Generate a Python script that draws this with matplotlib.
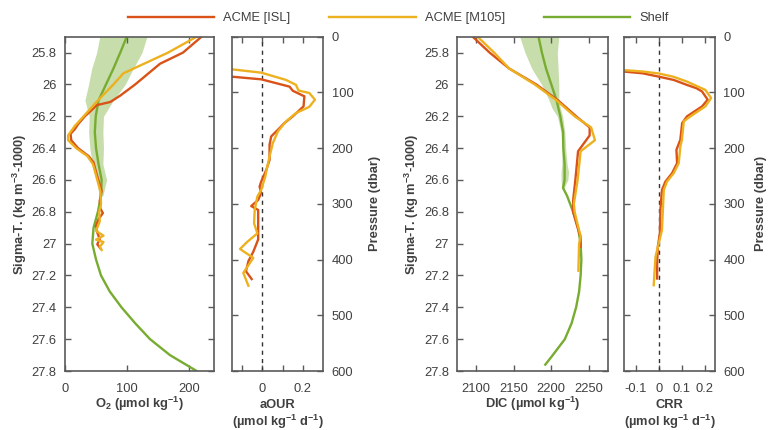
import matplotlib
matplotlib.use("Agg")
import matplotlib.pyplot as plt
import numpy as np
from matplotlib.lines import Line2D

plt.rcParams['font.family'] = ['Liberation Sans', 'DejaVu Sans']
plt.rcParams['mathtext.default'] = 'regular'

# ---------------- data ----------------
# O2 panel (sigma-T)
shelf_o2_sig = [25.7, 25.8, 25.9, 26.0, 26.1, 26.2, 26.3, 26.4, 26.5, 26.6, 26.7, 26.8, 26.9,
                27.0, 27.1, 27.2, 27.3, 27.4, 27.5, 27.6, 27.7, 27.8]
shelf_o2 = [99.5, 89, 78, 66, 54, 49.5, 48, 50, 54, 59, 58, 53, 46,
            44, 50, 58, 72, 91, 113, 137, 169, 212]
band_o2_sig = [25.7, 25.8, 25.9, 26.0, 26.1, 26.2, 26.3, 26.4, 26.5, 26.6, 26.7]
band_o2_lo = [56, 51, 43, 38, 32, 39, 38, 40, 44, 51, 55]
band_o2_hi = [132, 124, 110, 97, 78, 62, 61, 62, 61, 67, 61]

isl_o2_sig = [25.70, 25.8, 25.87, 26.0, 26.07, 26.11, 26.13, 26.15, 26.2, 26.25, 26.28, 26.31,
              26.35, 26.4, 26.45, 26.49, 26.55, 26.604, 26.667, 26.73, 26.78, 26.808, 26.846,
              26.888, 26.93, 26.972, 27.004, 27.03]
isl_o2 = [220, 190, 153, 113, 89, 73, 51, 46, 32, 21, 16, 9,
          10, 21, 38, 46, 50, 54, 59, 56, 57, 61, 54,
          50, 52, 56, 52, 57]

m105_o2_sig = [25.70, 25.8, 25.93, 26.0, 26.1, 26.2, 26.26, 26.32, 26.35, 26.4, 26.45, 26.5,
               26.6, 26.67, 26.75, 26.8, 26.86, 26.92, 26.95, 26.975, 26.99, 27.02, 27.04]
m105_o2 = [212, 166, 94, 78, 53, 30, 16, 5, 5, 18, 36, 45,
           52, 57, 58, 55, 56, 50, 62, 50, 62, 56, 59]

# aOUR panel (pressure)
isl_aour_p = [71.7, 76.5, 89.6, 97, 107, 125, 143, 155, 167, 179, 194, 221, 239, 260, 269, 280,
              293, 304, 311, 347, 364, 386, 403, 421, 435]
isl_aour = [-0.151, -0.005, 0.134, 0.15, 0.207, 0.203, 0.15, 0.109, 0.077, 0.044, 0.036, 0.036,
            0.02, -0.005, -0.013, -0.005, -0.02, -0.054, -0.02, -0.02, -0.02, -0.044, -0.068,
            -0.08, -0.052]
m105_aour_p = [58.5, 64.5, 77.6, 86.5, 96.6, 101, 113, 126, 137, 152, 170, 191, 215, 233, 251,
               275, 287, 311, 335, 353, 369, 381, 397, 424, 447]
m105_aour = [-0.151, -0.005, 0.117, 0.166, 0.178, 0.231, 0.259, 0.231, 0.166, 0.117, 0.077,
             0.052, 0.036, 0.025, 0.015, -0.005, -0.024, -0.037, -0.04, -0.024, -0.076,
             -0.109, -0.044, -0.093, -0.068]

# DIC panel (sigma-T)
shelf_dic_sig = [25.7, 25.8, 25.9, 26.0, 26.1, 26.2, 26.3, 26.4, 26.5, 26.6, 26.65, 26.7, 26.8,
                 26.9, 27.0, 27.1, 27.2, 27.3, 27.4, 27.5, 27.6, 27.7, 27.76]
shelf_dic = [2183, 2187.5, 2193, 2200, 2207, 2212, 2215.6, 2216, 2217.7, 2217.7, 2215.6, 2221,
             2229, 2235.6, 2239, 2240, 2239, 2237, 2233, 2227, 2218, 2202, 2192]
band_dic_sig = [25.7, 25.8, 25.9, 26.0, 26.1, 26.15, 26.2, 26.3, 26.4, 26.5, 26.55, 26.6, 26.65]
band_dic_lo = [2158, 2165, 2174, 2187, 2197, 2201, 2208, 2213, 2214, 2214, 2213, 2213, 2214]
band_dic_hi = [2210, 2208, 2209, 2210, 2210, 2212, 2215, 2218, 2219, 2221, 2223, 2222, 2217]

isl_dic_sig = [25.7, 25.8, 25.9, 26.0, 26.1, 26.2, 26.27, 26.32, 26.42, 26.6, 26.73, 26.8,
               26.91, 26.96, 27.0, 27.02]
isl_dic = [2095.5, 2118, 2144, 2180, 2209, 2233, 2251, 2251, 2235.6, 2232, 2229, 2229,
           2235.6, 2239, 2239, 2239]
m105_dic_sig = [25.7, 25.8, 25.9, 26.0, 26.1, 26.2, 26.27, 26.35, 26.42, 26.6, 26.75, 26.8,
                26.9, 26.95, 27.0, 27.17]
m105_dic = [2102, 2124, 2144, 2178, 2207, 2231, 2253, 2258, 2239, 2235, 2230, 2231,
            2236, 2239, 2237, 2236]

# CRR panel (pressure)
isl_crr_p = [62.7, 65.7, 71.7, 77.6, 86.6, 92.6, 98.5, 113, 125, 143, 155, 185, 203, 227, 245,
             260, 275, 311, 353, 377, 407, 434]
isl_crr = [-0.149, -0.07, 0.0, 0.065, 0.123, 0.165, 0.189, 0.213, 0.189, 0.123, 0.102, 0.094,
           0.077, 0.08, 0.058, 0.029, 0.014, 0.007, 0.005, -0.004, -0.007, -0.007]
m105_crr_p = [60, 62.5, 66, 72, 80.6, 95.5, 110, 125, 143, 152, 185, 197, 227, 245, 260, 275,
              347, 371, 395, 446]
m105_crr = [-0.149, -0.07, 0.0, 0.065, 0.123, 0.203, 0.228, 0.203, 0.138, 0.109, 0.101, 0.094,
            0.087, 0.065, 0.036, 0.022, 0.014, 0.0, -0.014, -0.022]

series_names = ['ACME [ISL]', 'ACME [M105]', 'Shelf']
sigma_ticks = [25.8, 26.0, 26.2, 26.4, 26.6, 26.8, 27.0, 27.2, 27.4, 27.6, 27.8]
pressure_ticks = [0, 100, 200, 300, 400, 500, 600]

# ---------------- style ----------------
C_ISL = '#D95319'
C_M105 = '#EDB120'
C_SHELF = '#77AC30'
LW = 1.7
SPINE = '#5a5a5a'
TXT = '#404040'
FS = 9.3

W, H = 770, 430
fig = plt.figure(figsize=(W / 100, H / 100), dpi=100)

AX_T, AX_B = 36.7, 371.0


def box(l, r):
    return [l / W, 1 - AX_B / H, (r - l) / W, (AX_B - AX_T) / H]


ax1 = fig.add_axes(box(65, 214))
ax2 = fig.add_axes(box(231.7, 323.3))
ax3 = fig.add_axes(box(457.3, 607.7))
ax4 = fig.add_axes(box(624.3, 715))


def style(ax):
    for s in ax.spines.values():
        s.set_color(SPINE)
        s.set_linewidth(1.2)
    ax.tick_params(direction='in', top=True, right=True, bottom=True, left=True,
                   length=4, width=1, color=SPINE, labelcolor=TXT, labelsize=FS, pad=6)
    ax.tick_params(axis='x', pad=8.5)


def fmt(v):
    return f"{v:g}"


def xlab(ax, text, top_px):
    ax.set_xlabel(text, fontsize=FS, fontweight='bold', color=TXT, linespacing=1.2)
    ax.xaxis.set_label_coords(0.5, -(top_px - AX_B) / (AX_B - AX_T))
    ax.xaxis.label.set_va('top')


# O2 panel
ax1.fill_betweenx(band_o2_sig, band_o2_lo, band_o2_hi, color=C_SHELF, alpha=0.4, lw=0)
ax1.plot(shelf_o2, shelf_o2_sig, color=C_SHELF, lw=LW)
ax1.plot(isl_o2, isl_o2_sig, color=C_ISL, lw=LW)
ax1.plot(m105_o2, m105_o2_sig, color=C_M105, lw=LW)
ax1.set_xlim(0, 240)
ax1.set_ylim(27.8, 25.7)
ax1.set_xticks([0, 100, 200])
ax1.set_yticks(sigma_ticks)
ax1.set_yticklabels([fmt(v) for v in sigma_ticks])
style(ax1)
xlab(ax1, 'O$_2$ (µmol kg$^{-1}$)', 395)
ax1.set_ylabel('Sigma-T. (kg m$^{-3}$-1000)', fontsize=FS, fontweight='bold', color=TXT, labelpad=2)

# aOUR panel
ax2.axvline(0, color='#333333', lw=1, ls=(0, (3, 3)))
ax2.plot(isl_aour, isl_aour_p, color=C_ISL, lw=LW)
ax2.plot(m105_aour, m105_aour_p, color=C_M105, lw=LW)
ax2.set_xlim(-0.15, 0.3)
ax2.set_ylim(600, 0)
ax2.set_xticks([-0.1, 0, 0.1, 0.2])
ax2.set_xticklabels(['', '0', '', '0.2'])
ax2.set_yticks(pressure_ticks)
style(ax2)
ax2.tick_params(labelleft=False, labelright=True)
ax2.yaxis.set_label_position('right')
ax2.set_ylabel('Pressure (dbar)', fontsize=FS, fontweight='bold', color=TXT, labelpad=11)
xlab(ax2, 'aOUR\n(µmol kg$^{-1}$ d$^{-1}$)', 398.5)

# DIC panel
ax3.fill_betweenx(band_dic_sig, band_dic_lo, band_dic_hi, color=C_SHELF, alpha=0.4, lw=0)
ax3.plot(shelf_dic, shelf_dic_sig, color=C_SHELF, lw=LW)
ax3.plot(isl_dic, isl_dic_sig, color=C_ISL, lw=LW)
ax3.plot(m105_dic, m105_dic_sig, color=C_M105, lw=LW)
ax3.set_xlim(2075, 2275)
ax3.set_ylim(27.8, 25.7)
ax3.set_xticks([2100, 2150, 2200, 2250])
ax3.set_yticks(sigma_ticks)
ax3.set_yticklabels([fmt(v) for v in sigma_ticks])
style(ax3)
xlab(ax3, 'DIC (µmol kg$^{-1}$)', 395)
ax3.set_ylabel('Sigma-T. (kg m$^{-3}$-1000)', fontsize=FS, fontweight='bold', color=TXT, labelpad=2)

# CRR panel
ax4.axvline(0, color='#333333', lw=1, ls=(0, (3, 3)))
ax4.plot(isl_crr, isl_crr_p, color=C_ISL, lw=LW)
ax4.plot(m105_crr, m105_crr_p, color=C_M105, lw=LW)
ax4.set_xlim(-0.15, 0.245)
ax4.set_ylim(600, 0)
ax4.set_xticks([-0.1, 0, 0.1, 0.2])
ax4.set_xticklabels(['-0.1', '0', '0.1', '0.2'])
ax4.set_yticks(pressure_ticks)
style(ax4)
ax4.tick_params(labelleft=False, labelright=True)
ax4.yaxis.set_label_position('right')
ax4.set_ylabel('Pressure (dbar)', fontsize=FS, fontweight='bold', color=TXT, labelpad=7)
xlab(ax4, 'CRR\n(µmol kg$^{-1}$ d$^{-1}$)', 398.5)

handles = [Line2D([], [], color=c, lw=LW) for c in (C_ISL, C_M105, C_SHELF)]
fig.legend(handles, series_names, loc='center', bbox_to_anchor=(0.517, 0.958), ncol=3,
           frameon=False, fontsize=FS, handlelength=6.7, columnspacing=3.0,
           handletextpad=0.7, labelcolor=TXT)

fig.savefig('out.png', dpi=100)
